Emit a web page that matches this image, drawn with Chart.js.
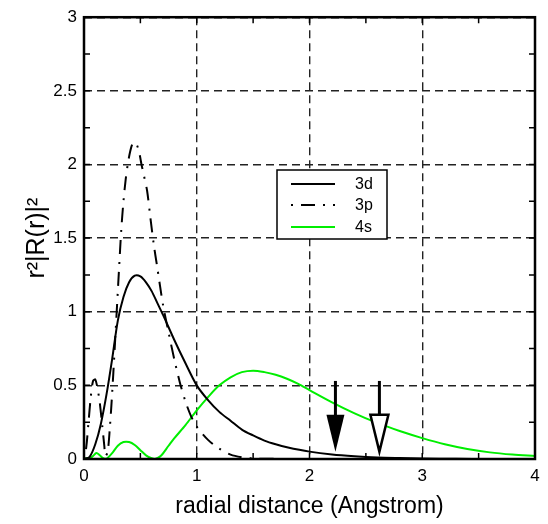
<!DOCTYPE html>
<html><head><meta charset="utf-8">
<script src="https://cdn.jsdelivr.net/npm/chart.js@4"></script>
<style>html,body{margin:0;padding:0;background:#fff}canvas{display:block}</style>
</head><body>
<canvas id="c" width="548" height="524"></canvas>
<script>
const seriesNames = ['3d', '3p', '4s'];
const xTickValues = [0, 1, 2, 3, 4];
const yTickValues = [0, 0.5, 1, 1.5, 2, 2.5, 3];

const r3d = [0,0.05,0.1,0.15,0.2,0.25,0.3,0.35,0.4,0.45,0.5,0.55,0.6,0.65,0.7,0.8,0.9,1.0,1.1,1.2,1.3,1.4,1.5,1.6,1.7,1.8,2.0,2.2,2.4,2.6,2.8,3.0,3.3,3.6,4.0];
const v3d = [0,0.015,0.1,0.24,0.44,0.68,0.94,1.1,1.2,1.245,1.24,1.2,1.14,1.06,0.98,0.81,0.65,0.5,0.4,0.32,0.26,0.2,0.16,0.125,0.1,0.08,0.05,0.03,0.018,0.01,0.006,0.003,0.001,0.0005,0];

const r3p = [0,0.02,0.04,0.06,0.08,0.1,0.12,0.14,0.16,0.18,0.19,0.21,0.23,0.25,0.27,0.29,0.31,0.33,0.35,0.37,0.39,0.41,0.43,0.45,0.47,0.49,0.51,0.53,0.56,0.59,0.62,0.65,0.7,0.75,0.8,0.85,0.9,0.95,1.0,1.1,1.2,1.3,1.4,1.5,1.7,2.0,4.0];
const v3p = [0,0.08,0.25,0.42,0.53,0.54,0.48,0.38,0.24,0.09,0.02,0.05,0.22,0.45,0.72,1.0,1.28,1.55,1.75,1.9,2.01,2.09,2.14,2.15,2.13,2.08,2.0,1.93,1.82,1.63,1.45,1.3,1.05,0.86,0.68,0.52,0.39,0.29,0.22,0.13,0.07,0.03,0.012,0.004,0.001,0,0];

const r4s = [0,0.03,0.05,0.08,0.11,0.14,0.17,0.2,0.25,0.3,0.35,0.4,0.45,0.5,0.55,0.6,0.63,0.68,0.75,0.8,0.9,1.0,1.1,1.2,1.3,1.4,1.5,1.6,1.7,1.8,1.9,2.0,2.2,2.4,2.6,2.8,3.0,3.2,3.4,3.6,3.8,4.0];
const v4s = [0,0.006,0.002,0.02,0.04,0.025,0.006,0.002,0.04,0.09,0.115,0.115,0.095,0.06,0.025,0.005,0,0.02,0.09,0.14,0.23,0.33,0.42,0.5,0.555,0.59,0.6,0.59,0.572,0.545,0.51,0.468,0.385,0.31,0.245,0.19,0.142,0.1,0.068,0.045,0.03,0.02];

const arrowR = [2.23, 2.62];
const arrowFilled = [true, false];
const arrowTop = 0.53;
const arrowHeadStart = 0.3;
const arrowTip = 0.05;

const pts = (xs, ys) => xs.map((x, i) => ({x, y: ys[i]}));
const FONT = '"Liberation Sans", Arial, sans-serif';

const frameAndTicks = {
  id: 'frameAndTicks',
  afterDatasetsDraw(chart) {
    const {ctx, chartArea: a, scales: {x, y}} = chart;
    ctx.save();
    // arrows
    arrowR.forEach((r, i) => {
      const px = x.getPixelForValue(r);
      const yt = y.getPixelForValue(arrowTop);
      const yh = y.getPixelForValue(arrowHeadStart);
      const yp = y.getPixelForValue(arrowTip);
      ctx.strokeStyle = '#000';
      ctx.lineWidth = 3;
      ctx.beginPath(); ctx.moveTo(px, yt); ctx.lineTo(px, yh + 2); ctx.stroke();
      ctx.beginPath();
      ctx.moveTo(px - 9, yh); ctx.lineTo(px + 9, yh); ctx.lineTo(px, yp); ctx.closePath();
      if (arrowFilled[i]) { ctx.fillStyle = '#000'; ctx.fill(); }
      else { ctx.fillStyle = '#fff'; ctx.fill(); ctx.lineWidth = 2.5; ctx.lineJoin = 'miter'; ctx.stroke(); }
    });
    // frame
    ctx.strokeStyle = '#000';
    ctx.lineWidth = 2.5;
    ctx.setLineDash([]);
    ctx.strokeRect(a.left, a.top, a.right - a.left, a.bottom - a.top);
    // minor ticks
    ctx.lineWidth = 1.5;
    const tl = 6;
    for (let v = 0; v <= 4.0001; v += 0.5) {
      const px = x.getPixelForValue(v);
      ctx.beginPath();
      ctx.moveTo(px, a.bottom); ctx.lineTo(px, a.bottom - tl);
      ctx.moveTo(px, a.top); ctx.lineTo(px, a.top + tl);
      ctx.stroke();
    }
    for (let v = 0; v <= 3.0001; v += 0.25) {
      const py = y.getPixelForValue(v);
      ctx.beginPath();
      ctx.moveTo(a.left, py); ctx.lineTo(a.left + tl, py);
      ctx.moveTo(a.right, py); ctx.lineTo(a.right - tl, py);
      ctx.stroke();
    }
    // legend box
    const L = 277, T = 170, R = 387, B = 239;
    ctx.fillStyle = '#fff';
    ctx.fillRect(L, T, R - L, B - T);
    ctx.lineWidth = 1.5;
    ctx.strokeStyle = '#000';
    ctx.strokeRect(L, T, R - L, B - T);
    const rows = [184, 205, 227];
    chart.data.datasets.forEach((ds, i) => {
      ctx.save();
      ctx.strokeStyle = ds.borderColor;
      ctx.lineWidth = ds.borderWidth;
      ctx.setLineDash(ds.borderDash || []);
      ctx.lineDashOffset = ds.borderDashOffset || 0;
      ctx.beginPath(); ctx.moveTo(291, rows[i]); ctx.lineTo(335, rows[i]); ctx.stroke();
      ctx.restore();
      ctx.fillStyle = '#000';
      ctx.font = '16px ' + FONT;
      ctx.textBaseline = 'middle';
      ctx.textAlign = 'left';
      ctx.fillText(ds.label, 355, rows[i] + 1);
    });
    ctx.restore();
  }
};

const tickFont = {family: FONT, size: 17};

new Chart(document.getElementById('c'), {
  type: 'scatter',
  data: {
    datasets: [
      {label: seriesNames[0], data: pts(r3d, v3d), showLine: true, borderColor: '#000', borderWidth: 2, pointRadius: 0, tension: 0.3, fill: false},
      {label: seriesNames[1], data: pts(r3p, v3p), showLine: true, borderColor: '#000', borderWidth: 2, borderDash: [14, 8, 2, 8], borderDashOffset: 22, pointRadius: 0, tension: 0.3, fill: false},
      {label: seriesNames[2], data: pts(r4s, v4s), showLine: true, borderColor: '#00ee00', borderWidth: 2, pointRadius: 0, tension: 0.3, fill: false}
    ]
  },
  options: {
    responsive: false,
    animation: false,
    devicePixelRatio: 1,
    layout: {padding: {top: 9, right: 13, left: 0, bottom: 0}},
    plugins: {legend: {display: false}, tooltip: {enabled: false}},
    scales: {
      x: {
        type: 'linear', min: 0, max: 4,
        afterBuildTicks: s => { s.ticks = xTickValues.map(v => ({value: v})); },
        afterFit: s => { s.height = 65; },
        ticks: {color: '#000', font: tickFont, padding: 7, callback: v => String(v)},
        grid: {color: '#222', lineWidth: 1.4, drawTicks: false},
        border: {display: false, dash: [8, 5]},
        title: {display: true, text: 'radial distance (Angstrom)', color: '#000', font: {family: FONT, size: 23}, padding: {top: 0, bottom: 4}}
      },
      y: {
        type: 'linear', min: 0, max: 3,
        afterBuildTicks: s => { s.ticks = yTickValues.map(v => ({value: v})); },
        afterFit: s => { s.width = 84; },
        ticks: {color: '#000', font: tickFont, padding: 7, callback: v => String(v)},
        grid: {color: '#222', lineWidth: 1.4, drawTicks: false},
        border: {display: false, dash: [8, 5]},
        title: {display: true, text: 'r²|R(r)|²', color: '#000', font: {family: FONT, size: 25}, padding: {top: 22, bottom: 0}}
      }
    }
  },
  plugins: [frameAndTicks]
});
</script>
</body></html>
